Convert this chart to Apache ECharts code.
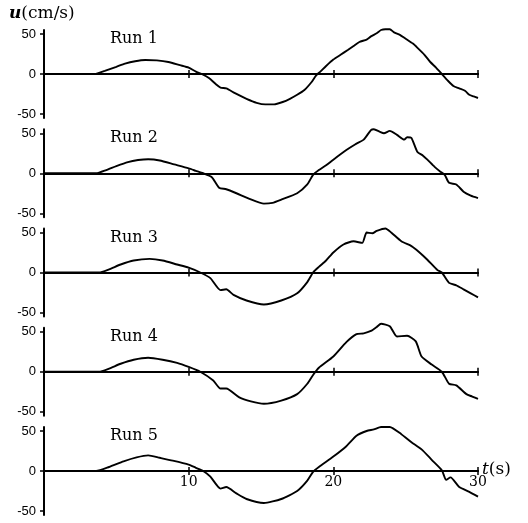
<!DOCTYPE html>
<html><head><meta charset="utf-8">
<script src="https://cdn.jsdelivr.net/npm/echarts@6/dist/echarts.min.js"></script>
<style>html,body{margin:0;padding:0;background:#fff}#c{width:528px;height:523px}</style>
</head><body><div id="c"></div>
<script>
const runNames = ['Run 1', 'Run 2', 'Run 3', 'Run 4', 'Run 5'];
const yTicksUpper = [0, 50];
const yTicksLower = [-50];
const xMin = 0, xMax = 30, xStep = 10;
const yMin = -55, yMax = 55;

const run1 = [[0,0],[3.5,0],[4.2,4],[5,9],[5.6,13],[6.3,16],[7,17.5],[7.8,17],[8.6,15],[9.4,11],[10,8],[10.5,3],[10.9,0],[11.4,-5],[11.9,-13],[12.2,-17],[12.6,-18],[13.2,-24],[14,-31],[14.7,-36],[15.3,-38],[15.9,-38],[16.5,-35],[17,-31],[17.5,-26],[18,-20],[18.5,-10],[18.8,-2],[19.1,3],[19.5,10],[20,18],[20.5,24],[21,30],[21.4,35],[21.8,40],[22.3,43],[22.6,47],[23,51],[23.3,55],[23.6,56],[23.9,56],[24.2,52],[24.6,49],[25,44],[25.5,38],[25.8,33],[26.3,24],[26.7,15],[27.1,8],[27.5,0],[27.9,-8],[28.3,-15],[28.7,-18],[29.1,-21],[29.4,-26],[29.7,-28],[30,-30]];
const run2 = [[0,0],[3.6,0],[4.3,4],[5,9],[5.8,14],[6.5,16.5],[7.2,17.5],[8,16],[9,11],[10,6],[10.5,3],[11,0],[11.6,-5],[12.1,-18],[12.6,-20],[13.3,-25],[14.2,-32],[15.2,-38],[15.8,-37],[16.4,-33],[17.5,-25],[18.2,-14],[18.6,-2],[19,4],[19.5,10],[20,17],[20.9,29],[21.5,36],[22.1,42],[22.6,54],[22.8,55],[23.2,52],[23.5,50],[23.9,53],[24.4,48],[24.9,42],[25.1,45],[25.4,44],[25.8,27],[26.2,22],[26.5,17],[27,8],[27.4,2],[27.7,-2],[28,-12],[28.5,-14],[29,-23],[29.5,-28],[30,-31]];
const run3 = [[0,0],[3.8,0],[4.5,4],[5.3,10],[6.2,15],[7.3,17],[8.2,15],[9.2,10],[10,6],[10.8,0],[11.5,-7],[12.2,-22],[12.6,-21],[13.1,-28],[14,-35],[15.2,-40],[16.4,-35],[17.5,-26],[18.2,-12],[18.6,0],[19,7],[19.5,15],[20,25],[20.7,35],[21.4,39],[22,37],[22.3,50],[22.7,49],[23,52],[23.6,55],[24,50],[24.7,39],[25.4,33],[25.9,26],[26.5,16],[27.2,3],[27.5,0],[28,-13],[28.5,-16],[29,-21],[29.5,-26],[30,-31]];
const run4 = [[0,0],[3.8,0],[4.5,4],[5.3,10],[6.2,15],[7.2,17.5],[8.2,15],[9.2,11],[10,6],[10.8,0],[11.7,-11],[12.2,-21],[12.6,-21],[13.5,-32],[14.3,-37],[15.2,-40],[16.4,-36],[17.5,-28],[18.2,-15],[18.6,-4],[19,5],[20,19],[20.9,37],[21.6,47],[22.1,48],[22.6,51],[23,56],[23.3,60],[23.9,57],[24.4,44],[25.1,45],[25.7,38],[26.1,19],[26.8,9],[27.5,0],[28,-15],[28.5,-17],[29.2,-28],[29.6,-31],[30,-34]];
const run5 = [[0,0],[3.6,0],[4.5,5],[5.5,12],[6.4,17],[7.2,19.5],[8,16.5],[8.9,13],[10,8],[10.5,4],[11,0],[11.5,-7],[12.2,-22],[12.6,-20],[13.3,-28],[14,-35],[15.2,-40],[16.4,-35],[17.5,-25],[18.2,-12],[18.6,-1],[19,5],[20,18],[20.9,31],[21.6,44],[22.3,50],[22.8,52],[23.3,55],[23.9,55],[24.7,46],[25.4,36],[26.1,27],[26.8,14],[27.5,1],[27.8,-11],[28.1,-8],[28.7,-20],[29.4,-26],[30,-32]];
const runs = [run1, run2, run3, run4, run5];

const chart = echarts.init(document.getElementById('c'));
const panelTop = 30, panelStep = 99.25, halfH = 44, left = 44, width = 434;
const grids = [], xAxes = [], yAxes = [], series = [], graphics = [];
const serif = 'DejaVu Serif';
const sans = 'Liberation Sans';
const black = '#000';

runs.forEach((data, i) => {
  const top = panelTop + i * panelStep;
  const last = i === runs.length - 1;
  const gU = 2 * i, gL = 2 * i + 1;
  // upper half (0 .. max) and lower half (min .. 0), same scale
  grids.push({ left: left, top: top, width: width, height: halfH });
  grids.push({ left: left, top: top + halfH, width: width, height: halfH });

  xAxes.push({
    gridIndex: gU, type: 'value', min: xMin, max: xMax, interval: xStep, position: 'bottom',
    axisLine: { show: true, onZero: false, lineStyle: { color: black, width: 2 } },
    axisTick: { show: true, length: 4, lineStyle: { color: black, width: 1.5 } },
    axisLabel: { show: last, margin: 4, color: black, fontFamily: serif, fontSize: 14,
      formatter: v => (v === 0 ? '' : String(v)) },
    splitLine: { show: false }
  });
  xAxes.push({
    gridIndex: gL, type: 'value', min: xMin, max: xMax, interval: xStep, position: 'top',
    axisLine: { show: true, onZero: false, lineStyle: { color: black, width: 2 } },
    axisTick: { show: true, length: 4, lineStyle: { color: black, width: 1.5 } },
    axisLabel: { show: false }, splitLine: { show: false }
  });

  yAxes.push({
    gridIndex: gU, type: 'value', min: 0, max: yMax,
    axisLine: { show: true, onZero: false, lineStyle: { color: black, width: 2 } },
    axisTick: { show: true, length: 4, customValues: yTicksUpper, lineStyle: { color: black, width: 1.5 } },
    axisLabel: { show: true, customValues: yTicksUpper, margin: 8, color: black, fontFamily: sans, fontSize: 13 },
    splitLine: { show: false }
  });
  yAxes.push({
    gridIndex: gL, type: 'value', min: yMin, max: 0,
    axisLine: { show: true, onZero: false, lineStyle: { color: black, width: 2 } },
    axisTick: { show: true, length: 4, customValues: yTicksLower, lineStyle: { color: black, width: 1.5 } },
    axisLabel: { show: true, customValues: yTicksLower, margin: 8, color: black, fontFamily: sans, fontSize: 13 },
    splitLine: { show: false }
  });

  series.push({
    type: 'line', xAxisIndex: gU, yAxisIndex: gU, data: data, showSymbol: false, smooth: 0.2,
    clip: false, lineStyle: { color: black, width: 1.9 }, animation: false
  });

  graphics.push({
    type: 'text', left: 110, top: top + 1,
    style: { text: runNames[i], fill: black, font: '16px "DejaVu Serif"' }
  });
});

graphics.push({
  type: 'text', left: 9, top: 5,
  style: {
    text: '{u|u}(cm/s)', fill: black, font: '17px "DejaVu Serif"',
    rich: { u: { fontStyle: 'italic', fontWeight: 'bold', fontFamily: serif, fontSize: 17, fill: black } }
  }
});
graphics.push({
  type: 'text', x: 482, y: 470,
  style: {
    text: '{t|t}(s)', fill: black, font: '17px "DejaVu Serif"', align: 'left', verticalAlign: 'middle',
    rich: { t: { fontStyle: 'italic', fontFamily: serif, fontSize: 17, fill: black } }
  }
});

chart.setOption({
  animation: false,
  backgroundColor: '#fff',
  grid: grids, xAxis: xAxes, yAxis: yAxes, series: series, graphic: graphics
});
</script></body></html>
